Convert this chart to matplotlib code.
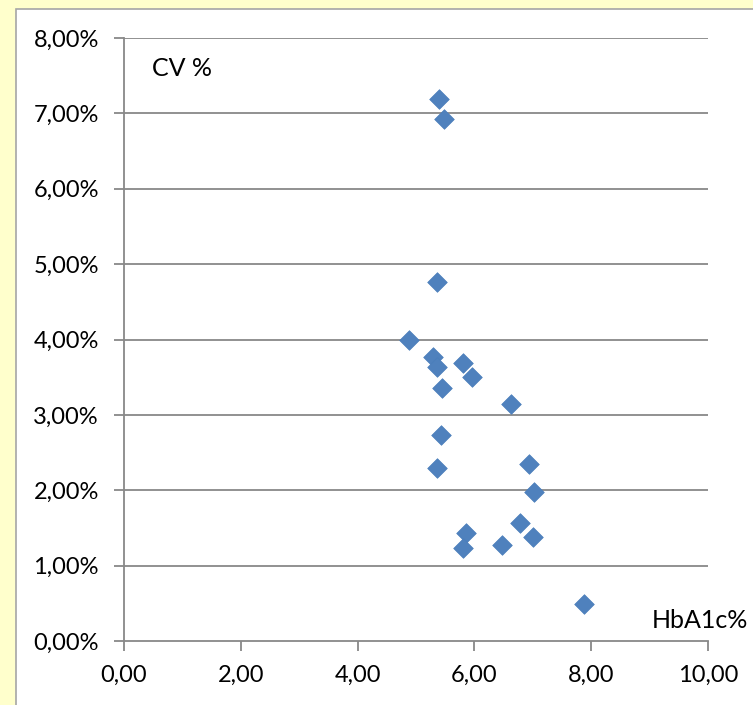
import matplotlib
matplotlib.use("Agg")
import matplotlib.pyplot as plt
from matplotlib.patches import Rectangle
from matplotlib.ticker import FuncFormatter

# ── Data (HbA1c vs CV) ─────────────────────────────────────────────────
hba1c = [5.39, 5.48, 5.36, 4.88, 5.29, 5.36, 5.80, 5.96, 5.45, 6.63, 5.43,
         5.36, 6.93, 7.02, 6.78, 7.00, 5.86, 5.80, 6.47, 7.88]
cv_pct = [7.19, 6.92, 4.76, 3.99, 3.77, 3.63, 3.69, 3.50, 3.36, 3.14, 2.73,
          2.29, 2.35, 1.98, 1.56, 1.38, 1.43, 1.23, 1.27, 0.49]
x_ticks = [0, 2, 4, 6, 8, 10]
y_ticks = [0, 1, 2, 3, 4, 5, 6, 7, 8]

plt.rcParams["font.family"] = ["Lato", "DejaVu Sans"]

W, H = 753, 705
fig = plt.figure(figsize=(W / 100, H / 100), dpi=100)
fig.patch.set_facecolor("#FFFFCC")

# white chart area with grey border (left/top visible)
fig.patches.append(Rectangle((16 / W, -0.1), 1.2, 1.1 - 9 / H,
                             transform=fig.transFigure, facecolor="white",
                             edgecolor="#A6A6A6", linewidth=1.2, zorder=-5))

ax = fig.add_axes([124 / W, 1 - 641 / H, (708 - 124) / W, (641 - 38) / H])
ax.set_facecolor("none")
grey = "#888888"

ax.scatter(hba1c, cv_pct, marker="D", s=100, color="#4F81BD",
           edgecolors="#4A7EBB", linewidths=0.5, zorder=3, clip_on=False)

ax.set_xlim(0, 10)
ax.set_ylim(0, 8)
ax.set_xticks(x_ticks)
ax.set_yticks(y_ticks)
ax.xaxis.set_major_formatter(FuncFormatter(lambda v, p: f"{v:.2f}".replace(".", ",")))
ax.yaxis.set_major_formatter(FuncFormatter(lambda v, p: f"{v:.2f}%".replace(".", ",")))

for v in y_ticks[1:]:
    ax.axhline(v, color=grey, linewidth=1.3, zorder=1)

for s in ["top", "right"]:
    ax.spines[s].set_visible(False)
for s in ["left", "bottom"]:
    ax.spines[s].set_color(grey)
    ax.spines[s].set_linewidth(1.3)

ax.tick_params(axis="both", direction="out", length=7, width=1.3, color=grey,
               labelsize=17, labelcolor="black")
ax.tick_params(axis="y", pad=11)
ax.tick_params(axis="x", pad=10)

fig.text(152 / W, 1 - 68 / H, "CV %", fontsize=18, va="center", ha="left")
fig.text(748 / W, 1 - 621 / H, "HbA1c%", fontsize=18, va="center", ha="right")

fig.savefig("out.png", dpi=100, facecolor=fig.get_facecolor())
